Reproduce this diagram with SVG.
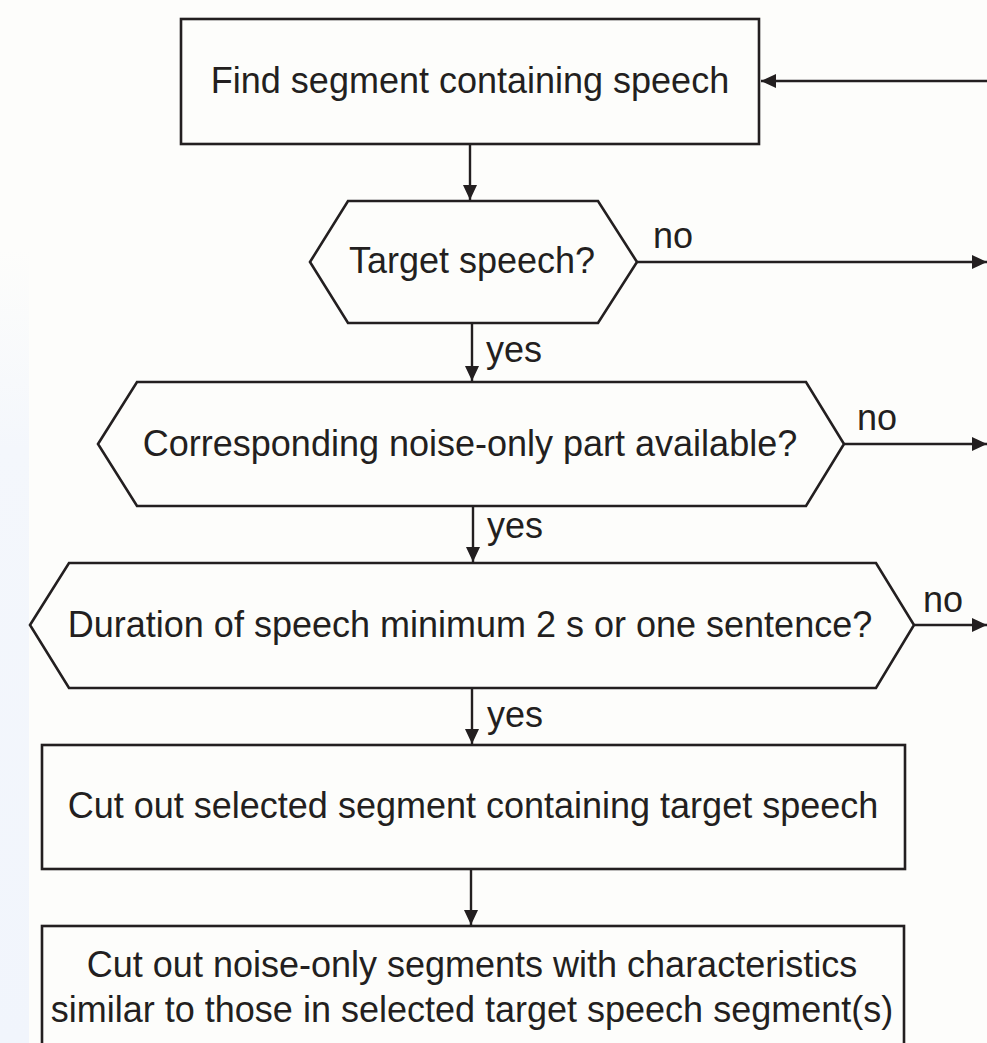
<svg xmlns="http://www.w3.org/2000/svg" width="987" height="1043" viewBox="0 0 987 1043">
<defs>
<linearGradient id="lb" x1="0" y1="0" x2="0" y2="1">
<stop offset="0" stop-color="#f4f7fc" stop-opacity="0"/>
<stop offset="0.25" stop-color="#f4f7fc" stop-opacity="1"/>
<stop offset="1" stop-color="#f1f5fc" stop-opacity="1"/>
</linearGradient>
<marker id="ah" markerUnits="userSpaceOnUse" markerWidth="16" markerHeight="14" viewBox="0 0 16 14" refX="15" refY="7" orient="auto">
<path d="M0,0 L15,7 L0,14 Z" fill="#231f20"/>
</marker>
</defs>
<style>
.shape{fill:none;stroke:#231f20;stroke-width:2.6}
.conn{fill:none;stroke:#231f20;stroke-width:2.4;marker-end:url(#ah)}
.t{font-family:"Liberation Sans",Arial,sans-serif;font-size:36px;fill:#231f20;text-anchor:middle}
.l{font-family:"Liberation Sans",Arial,sans-serif;font-size:36px;fill:#231f20}
</style>
<rect width="987" height="1043" fill="#fdfdfb"/>
<rect x="0" y="250" width="29" height="793" fill="url(#lb)"/>

<g id="connectors">
<line class="conn" x1="987" y1="81" x2="761" y2="81"/>
<line class="conn" x1="470" y1="144" x2="470" y2="200"/>
<line class="conn" x1="637" y1="262" x2="987" y2="262"/>
<line class="conn" x1="472" y1="323" x2="472" y2="381"/>
<line class="conn" x1="844" y1="444" x2="987" y2="444"/>
<line class="conn" x1="473" y1="506" x2="473" y2="562"/>
<line class="conn" x1="914" y1="625" x2="987" y2="625"/>
<line class="conn" x1="472" y1="688" x2="472" y2="744"/>
<line class="conn" x1="471" y1="869" x2="471" y2="925"/>
<text class="l" x="653" y="248">no</text>
<text class="l" x="486" y="362">yes</text>
<text class="l" x="857" y="430">no</text>
<text class="l" x="487" y="538">yes</text>
<text class="l" x="923" y="612">no</text>
<text class="l" x="487" y="727">yes</text>
</g>

<g id="find-segment">
<rect class="shape" x="181" y="19" width="578" height="125"/>
<text class="t" x="470" y="93">Find segment containing speech</text>
</g>

<g id="target-speech">
<polygon class="shape" points="310,262 348,201 598,201 637,262 598,323 348,323"/>
<text class="t" x="472" y="273">Target speech?</text>
</g>

<g id="noise-only-available">
<polygon class="shape" points="98,444 137,382 806,382 844,444 806,506 137,506"/>
<text class="t" x="470" y="456">Corresponding noise-only part available?</text>
</g>

<g id="duration">
<polygon class="shape" points="30,625 69,563 876,563 914,625 876,688 69,688"/>
<text class="t" x="470" y="637">Duration of speech minimum 2 s or one sentence?</text>
</g>

<g id="cut-target">
<rect class="shape" x="42" y="745" width="863" height="124"/>
<text class="t" x="473" y="818">Cut out selected segment containing target speech</text>
</g>

<g id="cut-noise">
<rect class="shape" x="42" y="926" width="862" height="140"/>
<text class="t" x="472" y="977">Cut out noise-only segments with characteristics</text>
<text class="t" x="472" y="1022">similar to those in selected target speech segment(s)</text>
</g>
</svg>
